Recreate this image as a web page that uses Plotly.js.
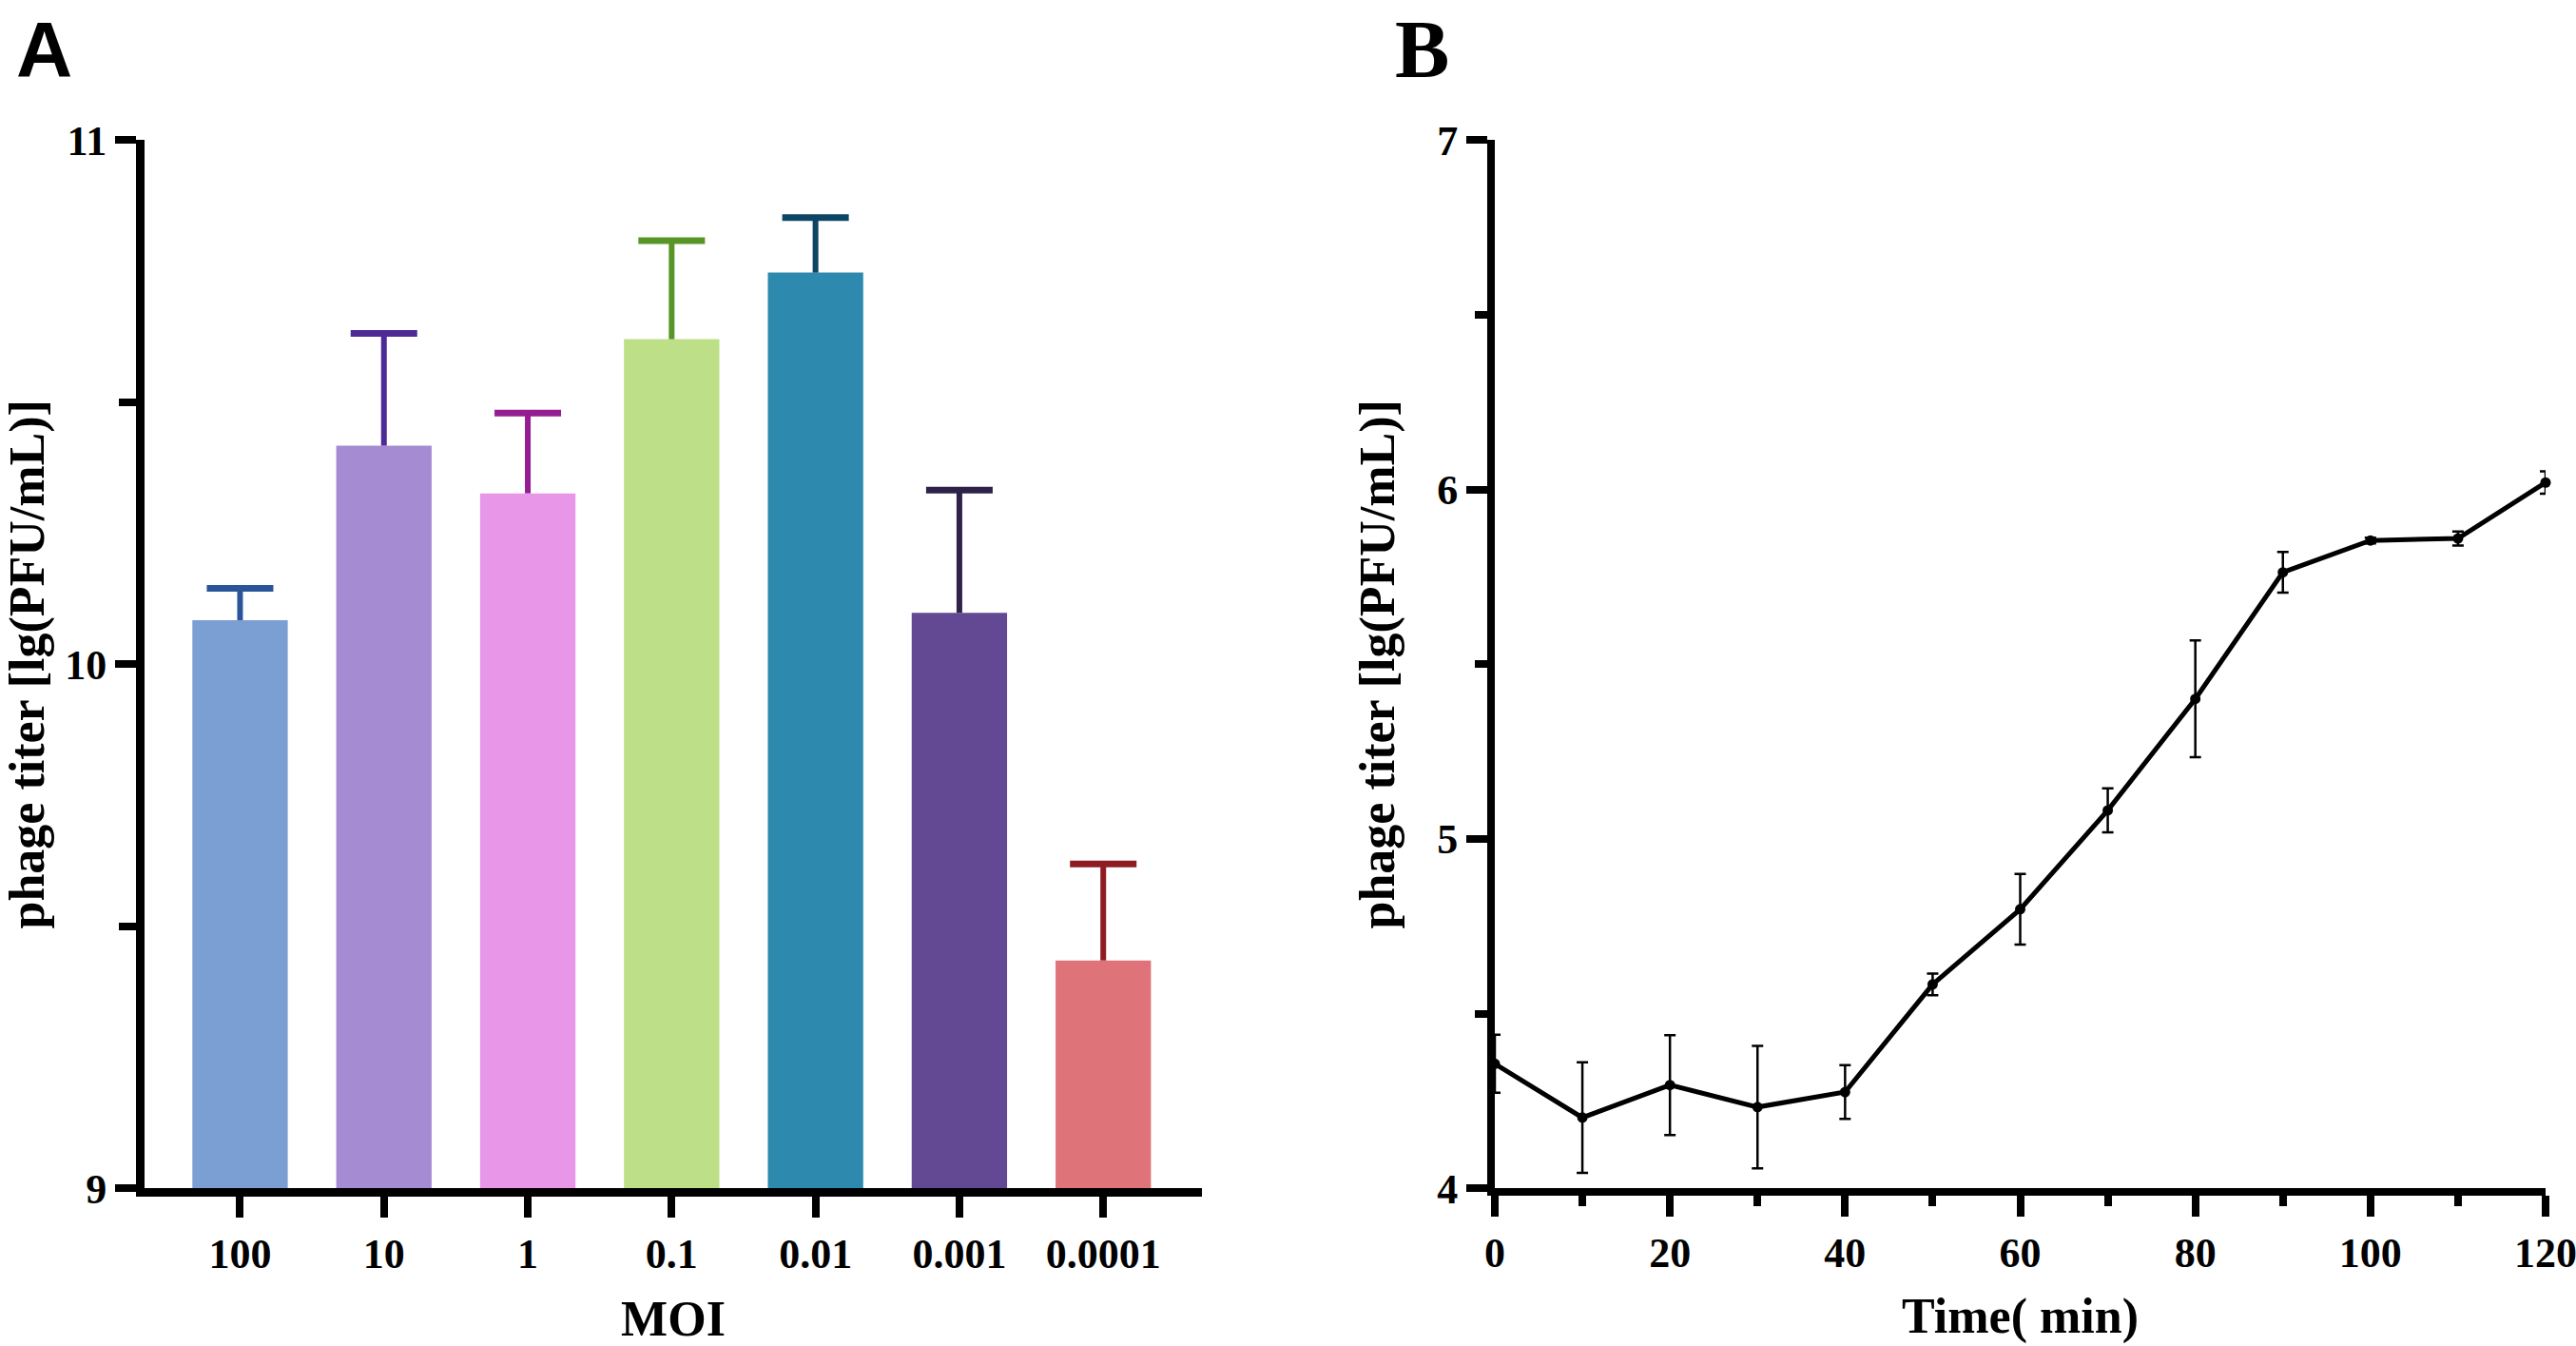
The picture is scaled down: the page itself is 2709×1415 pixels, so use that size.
<!DOCTYPE html>
<html>
<head>
<meta charset="utf-8">
<script src="https://cdn.plot.ly/plotly-3.0.1.min.js"></script>
<style>
  body { margin: 0; background: #fff; }
  #chart { width: 2709px; height: 1415px; }
</style>
</head>
<body>
<div id="chart"></div>
<script>
// panel A: titer at each MOI (mean + SD)
var moiLabels = ["100", "10", "1", "0.1", "0.01", "0.001", "0.0001"];
var titerMeans = [10.084, 10.417, 10.326, 10.620, 10.747, 10.098, 9.435];
var titerSD = [0.061, 0.214, 0.153, 0.188, 0.105, 0.234, 0.184];
var barColors = ["#7b9fd3", "#a58bd2", "#e896e8", "#bddf87", "#2d8aae", "#634893", "#de7479"];
var capColors = ["#2a5599", "#4d2a96", "#951d94", "#569526", "#0d4564", "#2e2248", "#8e1c22"];

// panel B: one-step growth curve
var timeMin = [0, 10, 20, 30, 40, 50, 60, 70, 80, 90, 100, 110, 120];
var phageTiter = [4.357, 4.203, 4.296, 4.233, 4.276, 4.584, 4.799, 5.082, 5.401, 5.763, 5.854, 5.860, 6.020];
var phageSD = [0.083, 0.158, 0.143, 0.175, 0.077, 0.031, 0.101, 0.063, 0.167, 0.058, 0.008, 0.020, 0.032];

var serif = "Liberation Serif, Times New Roman, serif";
var tickFont = { family: serif, size: 44, color: "#000", weight: "bold" };
var titleFont = { family: serif, size: 52, color: "#000", weight: "bold" };

var traces = [];

// bars: one trace each so the error stem can take its own colour (no caps here)
for (var i = 0; i < moiLabels.length; i++) {
  traces.push({
    type: "bar",
    x: [moiLabels[i]],
    y: [titerMeans[i]],
    width: 0.663,
    marker: { color: barColors[i], line: { width: 0 } },
    error_y: {
      type: "data",
      symmetric: false,
      array: [titerSD[i]],
      arrayminus: [0],
      color: capColors[i],
      thickness: 6,
      width: 0
    },
    showlegend: false,
    hoverinfo: "x+y"
  });
}

// top caps only (plotly would also put a cap at the bar top otherwise)
var capTops = titerMeans.map(function (m, k) { return m + titerSD[k]; });
traces.push({
  type: "scatter",
  mode: "markers",
  x: moiLabels,
  y: capTops,
  marker: { symbol: "line-ew", size: 50, color: capColors, line: { color: capColors, width: 7 } },
  cliponaxis: false,
  showlegend: false,
  hoverinfo: "skip"
});

traces.push({
  type: "scatter",
  mode: "lines+markers",
  x: timeMin,
  y: phageTiter,
  line: { color: "#000", width: 5 },
  marker: { color: "#000", size: 11 },
  error_y: { type: "data", array: phageSD, color: "#000", thickness: 2.5, width: 6 },
  cliponaxis: false,
  xaxis: "x2",
  yaxis: "y2",
  showlegend: false
});

var yDomain = [0.117, 0.896];

var layout = {
  width: 2709,
  height: 1415,
  margin: { l: 0, r: 0, t: 0, b: 0 },
  paper_bgcolor: "#fff",
  plot_bgcolor: "#fff",
  barmode: "overlay",
  showlegend: false,
  xaxis: {
    domain: [152 / 2709, 1264 / 2709],
    type: "category",
    range: [-0.664, 6.686],
    showgrid: false,
    zeroline: false,
    showline: true,
    linecolor: "#000",
    linewidth: 9,
    ticks: "outside",
    ticklen: 22,
    tickwidth: 8,
    tickcolor: "#000",
    tickfont: tickFont,
    automargin: false,
    title: { text: "MOI", font: titleFont, standoff: 30 },
    anchor: "y"
  },
  yaxis: {
    domain: yDomain,
    range: [9, 11],
    tickvals: [9, 10, 11],
    minor: { tickvals: [9.5, 10.5], ticks: "outside", ticklen: 18, tickwidth: 8, tickcolor: "#000", showgrid: false },
    showgrid: false,
    zeroline: false,
    showline: true,
    linecolor: "#000",
    linewidth: 9,
    ticks: "outside",
    ticklen: 22,
    tickwidth: 8,
    tickcolor: "#000",
    tickfont: tickFont,
    automargin: false,
    title: { text: "phage titer [lg(PFU/mL)]", font: titleFont, standoff: 13 },
    anchor: "x"
  },
  xaxis2: {
    domain: [1572 / 2709, 2677 / 2709],
    range: [0, 120],
    tickvals: [0, 20, 40, 60, 80, 100, 120],
    minor: { tickvals: [10, 30, 50, 70, 90, 110], ticks: "outside", ticklen: 11, tickwidth: 8, tickcolor: "#000", showgrid: false },
    showgrid: false,
    zeroline: false,
    showline: true,
    linecolor: "#000",
    linewidth: 8,
    ticks: "outside",
    ticklen: 22,
    tickwidth: 8,
    tickcolor: "#000",
    tickfont: tickFont,
    ticklabeloverflow: "allow",
    automargin: false,
    title: { text: "Time( min)", font: titleFont, standoff: 26 },
    anchor: "y2"
  },
  yaxis2: {
    domain: yDomain,
    range: [4, 7],
    tickvals: [4, 5, 6, 7],
    minor: { tickvals: [4.5, 5.5, 6.5], ticks: "outside", ticklen: 13, tickwidth: 8, tickcolor: "#000", showgrid: false },
    showgrid: false,
    zeroline: false,
    showline: true,
    linecolor: "#000",
    linewidth: 8,
    ticks: "outside",
    ticklen: 22,
    tickwidth: 8,
    tickcolor: "#000",
    tickfont: tickFont,
    automargin: false,
    title: { text: "phage titer [lg(PFU/mL)]", font: titleFont, standoff: 31 },
    anchor: "x2"
  },
  annotations: [
    {
      text: "A", xref: "paper", yref: "paper", x: 15 / 2709, y: 1 - 4 / 1415,
      xanchor: "left", yanchor: "top", showarrow: false,
      font: { family: "Liberation Sans, Arial, sans-serif", size: 82, color: "#000", weight: "bold" }
    },
    {
      text: "B", xref: "paper", yref: "paper", x: 1465 / 2709, y: 1 - 2 / 1415,
      xanchor: "left", yanchor: "top", showarrow: false,
      font: { family: serif, size: 86, color: "#000", weight: "bold" }
    }
  ]
};

Plotly.newPlot("chart", traces, layout, { displayModeBar: false, staticPlot: true });
</script>
</body>
</html>
